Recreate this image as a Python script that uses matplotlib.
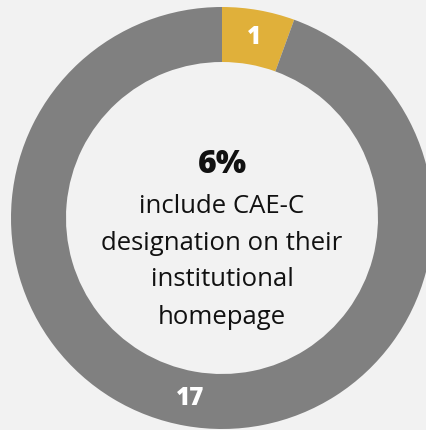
import matplotlib
matplotlib.use("Agg")
import matplotlib.pyplot as plt

categories = ["Include CAE-C", "Do not include"]
values = [1, 17]
colors = ["#e0b03a", "#808080"]
pct_text = "6%"
caption = ["include CAE-C", "designation on their", "institutional", "homepage"]

W, H = 427, 430
FONT = ["Open Sans", "DejaVu Sans"]
fig = plt.figure(figsize=(W / 100, H / 100), dpi=100)
fig.patch.set_facecolor("#f2f2f2")
ax = fig.add_axes([0, 0, 1, 1])
ax.set_facecolor("#f2f2f2")

cx, cy, R = 222, H - 218, 211
ring = 55
wedges, texts = ax.pie(values, colors=colors, startangle=90, counterclock=False,
                       center=(cx, cy), radius=R, frame=True,
                       wedgeprops=dict(width=ring, linewidth=0),
                       labels=[str(v) for v in values], labeldistance=(R - ring / 2) / R,
                       textprops=dict(color="white", fontsize=17.5, fontweight="heavy",
                                      family=FONT, ha="center", va="center"))
ax.set_xlim(0, W)
ax.set_ylim(0, H)
ax.set_aspect("equal")
ax.axis("off")

ax.text(cx, H - 165, pct_text, ha="center", va="center", fontsize=23,
        fontweight="heavy", family=FONT, color="#111111")
ys = [206, 243, 280, 318]
for t, y in zip(caption, ys):
    ax.text(cx, H - y, t, ha="center", va="center", fontsize=18.5,
            family=FONT, color="#111111")

fig.savefig("out.png", dpi=100, facecolor=fig.get_facecolor())
